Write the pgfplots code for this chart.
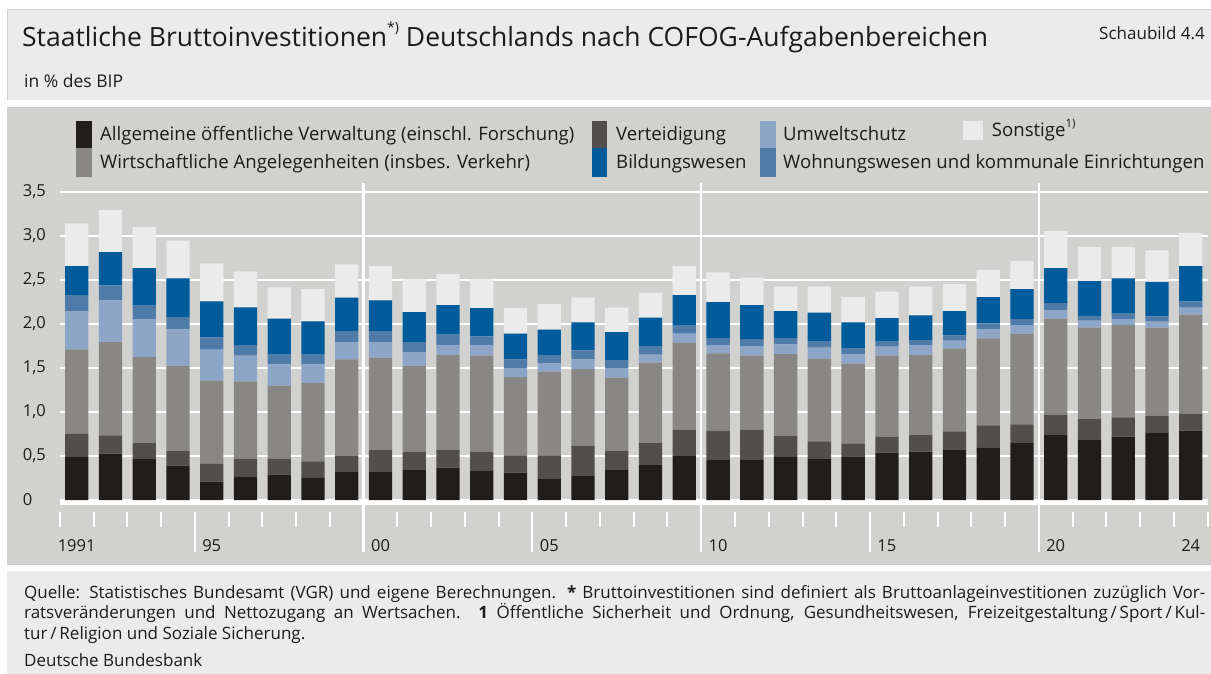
\documentclass[border=0pt]{standalone}
\usepackage{pgfplots}
\pgfplotsset{compat=1.18}
\usepackage{pgfplotstable}
\usepackage{fontspec}
\setmainfont{Open Sans}
\definecolor{cA}{HTML}{201D1A}
\definecolor{cB}{HTML}{524E4B}
\definecolor{cC}{HTML}{888785}
\definecolor{cD}{HTML}{8DA6C8}
\definecolor{cE}{HTML}{4F7BA8}
\definecolor{cF}{HTML}{005B9A}
\definecolor{cG}{HTML}{EBEBEB}
\definecolor{panel}{HTML}{EBEBEB}
\definecolor{chartbg}{HTML}{D1D1CF}
\definecolor{txt}{HTML}{1E1C1A}

\pgfplotstableread{
year a b c d e f g
1991 0.490 0.260 0.960 0.435 0.175 0.336 0.484
1992 0.526 0.208 1.059 0.473 0.171 0.378 0.475
1993 0.465 0.182 0.976 0.431 0.159 0.420 0.467
1994 0.390 0.166 0.969 0.412 0.140 0.439 0.428
1995 0.208 0.201 0.946 0.351 0.140 0.409 0.431
1996 0.269 0.200 0.878 0.291 0.121 0.428 0.409
1997 0.288 0.181 0.829 0.242 0.110 0.408 0.356
1998 0.250 0.189 0.889 0.212 0.110 0.378 0.367
1999 0.318 0.181 1.098 0.196 0.125 0.379 0.378
2000 0.318 0.249 1.049 0.177 0.125 0.348 0.390
2001 0.340 0.209 0.976 0.155 0.113 0.341 0.371
2002 0.367 0.200 1.079 0.113 0.118 0.336 0.352
2003 0.329 0.220 1.089 0.121 0.099 0.321 0.326
2004 0.310 0.197 0.889 0.102 0.099 0.291 0.291
2005 0.238 0.269 0.950 0.098 0.091 0.287 0.292
2006 0.280 0.337 0.870 0.110 0.102 0.318 0.280
2007 0.340 0.216 0.833 0.102 0.098 0.318 0.276
2008 0.397 0.250 0.912 0.091 0.098 0.322 0.283
2009 0.499 0.299 0.988 0.102 0.091 0.348 0.329
2010 0.454 0.333 0.878 0.094 0.080 0.408 0.337
2011 0.454 0.344 0.840 0.110 0.079 0.386 0.311
2012 0.488 0.238 0.931 0.110 0.072 0.306 0.280
2013 0.465 0.201 0.938 0.125 0.068 0.329 0.299
2014 0.496 0.140 0.911 0.110 0.061 0.299 0.287
2015 0.537 0.182 0.919 0.102 0.057 0.269 0.299
2016 0.549 0.189 0.908 0.113 0.057 0.280 0.329
2017 0.567 0.212 0.939 0.091 0.060 0.276 0.307
2018 0.598 0.250 0.987 0.102 0.068 0.299 0.310
2019 0.647 0.212 1.029 0.098 0.068 0.341 0.318
2020 0.738 0.231 1.089 0.099 0.079 0.397 0.420
2021 0.689 0.230 1.037 0.080 0.053 0.397 0.386
2022 0.719 0.219 1.048 0.068 0.061 0.401 0.356
2023 0.768 0.189 0.999 0.068 0.061 0.390 0.359
2024 0.787 0.193 1.124 0.079 0.072 0.401 0.378
}\data

\newcommand{\legfont}{\fontsize{18.6}{21}\selectfont}
\newcommand{\footfont}{\fontsize{17}{20}\selectfont}

\begin{document}
\begin{tikzpicture}[x=1pt,y=1pt]
\useasboundingbox (0,0) rectangle (1211,674);
\fill[white] (0,0) rectangle (1211,674);
\fill[panel] (7,574) rectangle (1211,665);
\draw[black!18, line width=0.8pt] (7,574) -- (7,665) -- (1211,665);
\fill[chartbg] (7,109) rectangle (1211,567);
\fill[panel] (7,0) rectangle (1211,103);

% title
\node[anchor=base west, inner sep=0, text=txt] at (22,627) {\fontsize{26.5}{30}\selectfont Staatliche Bruttoinvestitionen\raisebox{0.55em}{\fontsize{14}{14}\selectfont *)} Deutschlands nach COFOG-Aufgabenbereichen};
\node[anchor=base east, inner sep=0, text=txt] at (1205,634.5) {\fontsize{17}{20}\selectfont Schaubild 4.4};
\node[anchor=base west, inner sep=0, text=txt] at (24,586) {\fontsize{17.5}{20}\selectfont in \% des BIP};

% legend
\fill[cA] (76,525.7) rectangle (92,553.3);
\fill[cC] (76,497.3) rectangle (92,525.7);
\node[anchor=base west, inner sep=0, text=txt] at (100,533.5) {\legfont Allgemeine öffentliche Verwaltung (einschl. Forschung)};
\node[anchor=base west, inner sep=0, text=txt] at (100,505) {\legfont Wirtschaftliche Angelegenheiten (insbes. Verkehr)};
\fill[cB] (591.7,525.7) rectangle (607.3,553.3);
\fill[cF] (591.7,497.3) rectangle (607.3,525.7);
\node[anchor=base west, inner sep=0, text=txt] at (616,533.5) {\legfont Verteidigung};
\node[anchor=base west, inner sep=0, text=txt] at (616,505) {\legfont Bildungswesen};
\fill[cD] (760,525.7) rectangle (776,553.3);
\fill[cE] (760,497.3) rectangle (776,525.7);
\node[anchor=base west, inner sep=0, text=txt] at (783,533.5) {\legfont Umweltschutz};
\node[anchor=base west, inner sep=0, text=txt] at (783,505) {\legfont Wohnungswesen und kommunale Einrichtungen};
\fill[cG] (962.7,534) rectangle (982.7,553.3);
\node[anchor=base west, inner sep=0, text=txt] at (991.7,537) {\legfont Sonstige\raisebox{0.5em}{\fontsize{11.5}{11.5}\selectfont 1)}};

% footer
\node[anchor=base west, inner sep=0, text=txt] at (24,75.5) {\footfont\makebox[1181pt][s]{Quelle: Statistisches Bundesamt (VGR) und eigene Berechnungen. \textbf{*} Bruttoinvestitionen sind definiert als Bruttoanlageinvestitionen zuzüglich Vor-}};
\node[anchor=base west, inner sep=0, text=txt] at (24,55) {\footfont\makebox[1181pt][s]{ratsveränderungen und Nettozugang an Wertsachen. \textbf{1} Öffentliche Sicherheit und Ordnung, Gesundheitswesen, Freizeitgestaltung\,/\,Sport\,/\,Kul-}};
\node[anchor=base west, inner sep=0, text=txt] at (24,34.5) {\footfont tur\,/\,Religion und Soziale Sicherung.};
\node[anchor=base west, inner sep=0, text=txt] at (24,7.5) {\footfont Deutsche Bundesbank};

\begin{axis}[
  at={(59.8pt,122pt)}, anchor=south west,
  scale only axis, width=1147.8pt, height=369.1pt,
  xmin=1990.5, xmax=2024.5, ymin=-0.59, ymax=3.6,
  ybar stacked, bar width=23.3pt,
  axis line style={draw=none},
  major tick length=0pt,
  ytick={0,0.5,1,1.5,2,2.5,3,3.5},
  yticklabels={0,{0,5},{1,0},{1,5},{2,0},{2,5},{3,0},{3,5}},
  xtick={1991,1995,2000,2005,2010,2015,2020,2024},
  xticklabels={1991,95,00,05,10,15,20,24},
  ymajorgrids, grid style={white, line width=2.3pt},
  tick label style={font=\fontsize{16.5}{18}\selectfont, inner sep=0pt, text=txt},
  yticklabel style={anchor=west, xshift=-37pt},
  xticklabel style={anchor=base},
  clip=false,
]
\addplot[fill=cA, draw=none] table[x=year,y=a]{\data};
\addplot[fill=cB, draw=none] table[x=year,y=b]{\data};
\addplot[fill=cC, draw=none] table[x=year,y=c]{\data};
\addplot[fill=cD, draw=none] table[x=year,y=d]{\data};
\addplot[fill=cE, draw=none] table[x=year,y=e]{\data};
\addplot[fill=cF, draw=none] table[x=year,y=f]{\data};
\addplot[fill=cG, draw=none] table[x=year,y=g]{\data};
\draw[white, line width=4.7pt] ([yshift=-2.35pt]axis cs:1990.5,0) -- ([yshift=-2.35pt]axis cs:2024.5,0);
\pgfplotsinvokeforeach{1990,...,2024}{\draw[white, line width=2pt] (axis cs:#1.5,-0.136) -- (axis cs:#1.5,-0.306);}
\pgfplotsinvokeforeach{1994,2004,2014}{\draw[white, line width=2pt] (axis cs:#1.5,-0.136) -- (axis cs:#1.5,-0.59);}
\pgfplotsinvokeforeach{1999,2009,2019}{\draw[white, line width=2.5pt] (axis cs:#1.5,3.6) -- (axis cs:#1.5,-0.59);}
\end{axis}
\end{tikzpicture}
\end{document}
